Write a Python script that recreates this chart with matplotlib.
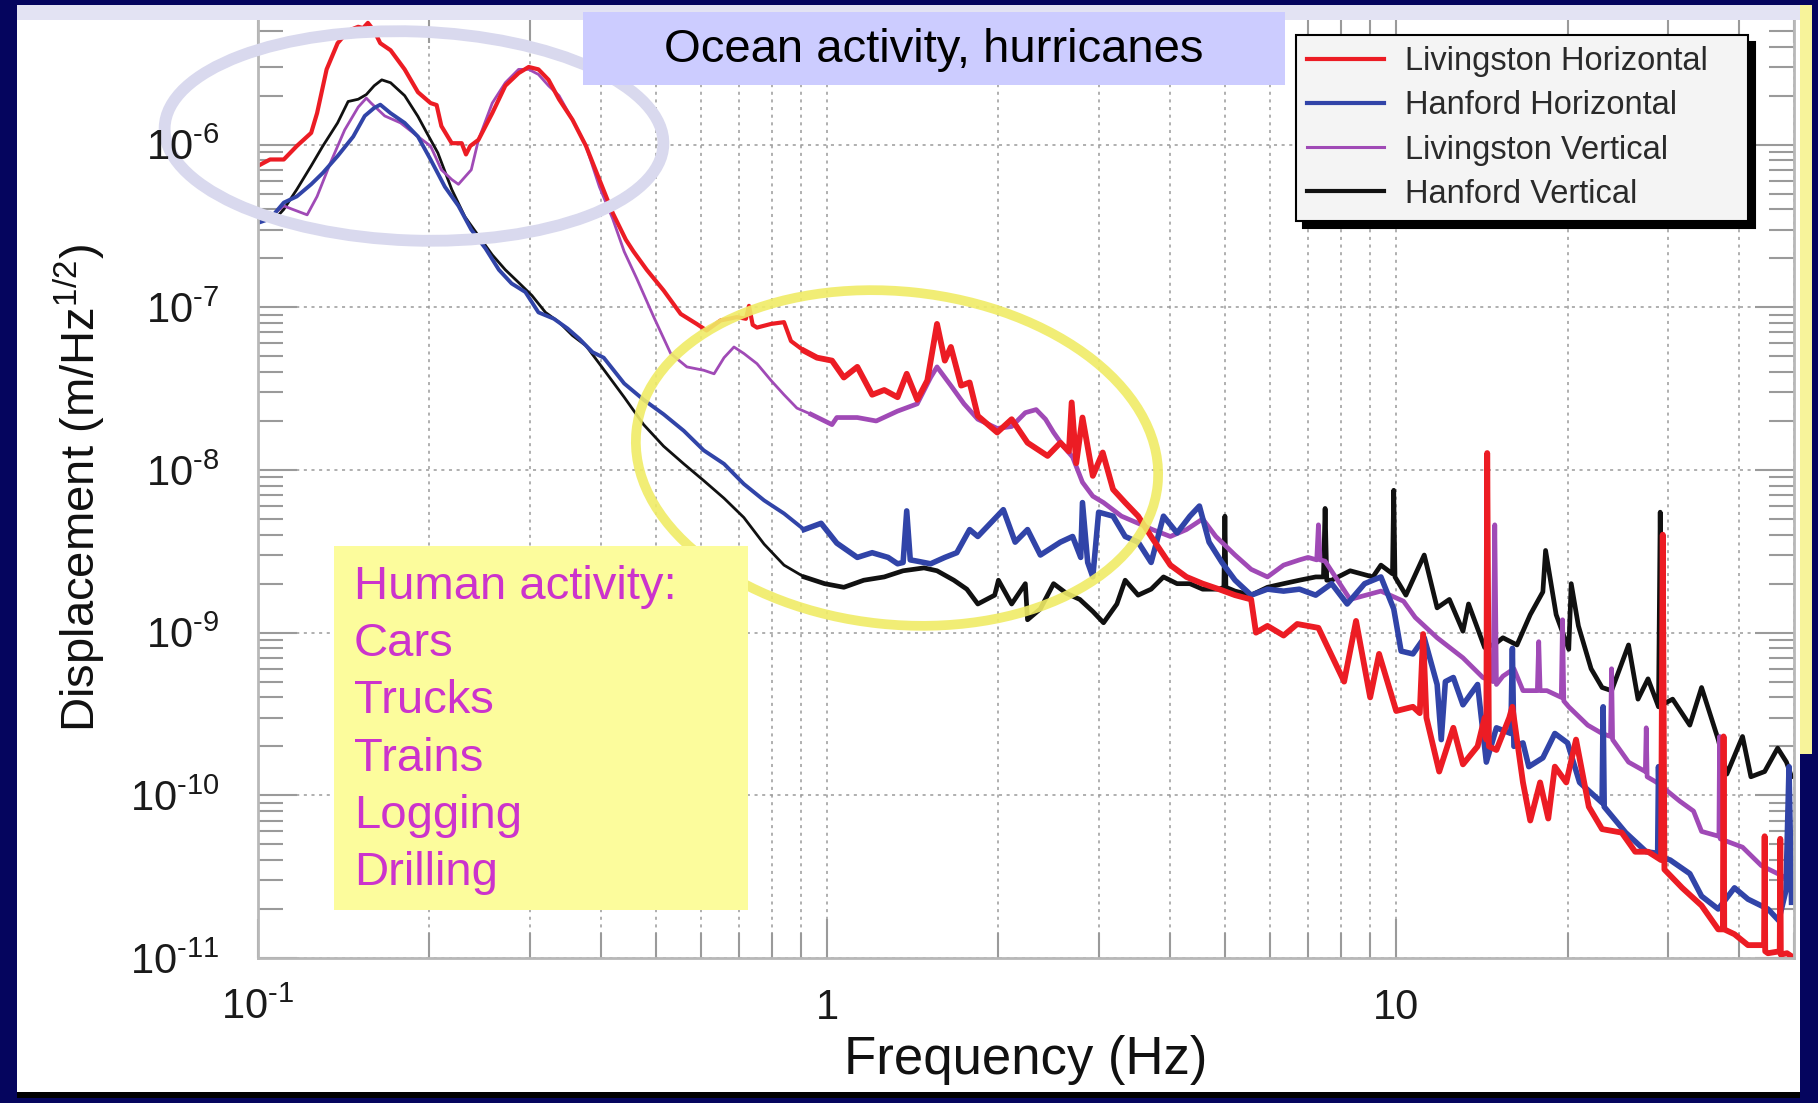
import matplotlib
matplotlib.use("Agg")
import matplotlib.pyplot as plt
from matplotlib.patches import Rectangle, Ellipse
from matplotlib.ticker import FixedLocator, LogLocator, NullFormatter, FuncFormatter
import numpy as np

plt.rcParams['font.family'] = ['Liberation Sans', 'DejaVu Sans']
plt.rcParams['mathtext.fontset'] = 'custom'
plt.rcParams['mathtext.rm'] = 'Liberation Sans'
plt.rcParams['mathtext.it'] = 'Liberation Sans:italic'
plt.rcParams['mathtext.bf'] = 'Liberation Sans:bold'

# ---- data: (frequency Hz, displacement m/rtHz) ----
lh_points = [  # Livingston Horizontal
    (0.100, 7.4e-7), (0.105, 8.1e-7), (0.111, 8.1e-7), (0.117, 9.8e-7), (0.124, 1.18e-6),
    (0.127, 1.56e-6), (0.132, 2.9e-6), (0.138, 4.2e-6), (0.144, 5.0e-6), (0.150, 5.3e-6),
    (0.153, 5.2e-6), (0.156, 5.6e-6), (0.160, 5.0e-6), (0.164, 4.2e-6), (0.171, 3.8e-6),
    (0.181, 2.9e-6), (0.191, 2.1e-6), (0.201, 1.8e-6), (0.206, 1.75e-6), (0.210, 1.3e-6),
    (0.219, 1.02e-6), (0.228, 1.02e-6), (0.232, 8.7e-7), (0.236, 9.8e-7), (0.244, 1.07e-6),
    (0.258, 1.56e-6), (0.272, 2.3e-6), (0.287, 2.75e-6), (0.299, 3.0e-6), (0.311, 2.9e-6),
    (0.324, 2.5e-6), (0.338, 1.9e-6), (0.357, 1.42e-6), (0.377, 9.8e-7), (0.398, 6.1e-7),
    (0.420, 3.8e-7), (0.443, 2.6e-7), (0.457, 2.2e-7), (0.482, 1.7e-7), (0.516, 1.27e-7),
    (0.553, 9.1e-8), (0.590, 7.9e-8), (0.614, 7.2e-8), (0.650, 8.3e-8), (0.694, 8.7e-8),
    (0.720, 8.5e-8), (0.729, 1.02e-7), (0.740, 7.8e-8), (0.753, 7.5e-8), (0.797, 7.9e-8),
    (0.840, 8.1e-8), (0.864, 6.2e-8), (0.911, 5.4e-8), (0.960, 4.9e-8), (1.02, 4.7e-8),
    (1.07, 3.7e-8), (1.13, 4.3e-8), (1.20, 2.9e-8), (1.26, 3.1e-8), (1.33, 2.8e-8),
    (1.38, 3.9e-8), (1.44, 2.7e-8), (1.50, 3.55e-8), (1.56, 7.9e-8), (1.61, 4.7e-8),
    (1.65, 5.7e-8), (1.72, 3.3e-8), (1.78, 3.45e-8), (1.84, 2.15e-8), (1.99, 1.7e-8),
    (2.11, 2.05e-8), (2.25, 1.47e-8), (2.44, 1.22e-8), (2.57, 1.47e-8), (2.66, 1.3e-8),
    (2.69, 2.6e-8), (2.74, 1.1e-8), (2.81, 2.1e-8), (2.93, 9.2e-9), (3.05, 1.28e-8),
    (3.18, 7.6e-9), (3.34, 6.3e-9), (3.52, 5.2e-9), (3.71, 3.9e-9), (4.01, 2.6e-9),
    (4.28, 2.2e-9), (4.57, 2.0e-9), (4.88, 1.85e-9), (5.21, 1.7e-9), (5.56, 1.6e-9),
    (5.67, 1.0e-9), (5.94, 1.1e-9), (6.34, 9.6e-10), (6.70, 1.13e-9), (7.30, 1.07e-9),
    (8.10, 5.0e-10), (8.50, 1.18e-9), (9.00, 4.0e-10), (9.33, 7.4e-10), (10.0, 3.3e-10),
    (10.7, 3.5e-10), (11.0, 3.2e-10), (11.15, 9.8e-10), (11.3, 3.0e-10), (11.9, 1.4e-10),
    (12.6, 2.6e-10), (13.1, 1.55e-10), (13.9, 2.0e-10), (14.3, 3.0e-10), (14.4, 2.2e-10),
    (14.45, 1.27e-8), (14.55, 2.0e-10), (15.0, 1.9e-10), (15.8, 3.0e-10), (16.0, 3.5e-10),
    (16.7, 1.2e-10), (17.2, 7.0e-11), (17.9, 1.2e-10), (18.5, 7.2e-11), (19.0, 1.5e-10),
    (19.9, 1.2e-10), (20.7, 2.2e-10), (21.8, 8.5e-11), (23.0, 6.2e-11), (24.9, 5.9e-11),
    (26.3, 4.5e-11), (27.7, 4.5e-11), (29.2, 4.0e-11), (29.4, 4.0e-9), (29.6, 3.5e-11),
    (31.8, 2.7e-11), (34.4, 2.1e-11), (36.8, 1.5e-11), (37.5, 1.5e-11), (37.6, 2.3e-10),
    (37.7, 1.5e-11), (39.3, 1.4e-11), (41.5, 1.2e-11), (44.3, 1.2e-11), (44.4, 5.6e-11),
    (44.5, 1.1e-11), (45.0, 1.07e-11), (47.2, 1.1e-11), (47.3, 5.4e-11), (47.4, 1.05e-11),
    (48.6, 1.07e-11), (50.0, 1.0e-11),
]

hh_points = [  # Hanford Horizontal
    (0.100, 3.3e-7), (0.105, 3.5e-7), (0.111, 4.4e-7), (0.117, 4.8e-7), (0.124, 5.7e-7),
    (0.130, 6.7e-7), (0.138, 8.5e-7), (0.147, 1.12e-6), (0.154, 1.5e-6), (0.160, 1.68e-6),
    (0.164, 1.76e-6), (0.171, 1.56e-6), (0.181, 1.36e-6), (0.191, 1.12e-6), (0.201, 8.1e-7),
    (0.213, 5.5e-7), (0.225, 4.2e-7), (0.237, 3.0e-7), (0.251, 2.3e-7), (0.265, 1.7e-7),
    (0.279, 1.4e-7), (0.295, 1.24e-7), (0.311, 9.3e-8), (0.331, 8.5e-8), (0.350, 7.4e-8),
    (0.367, 6.4e-8), (0.387, 5.3e-8), (0.405, 4.9e-8), (0.440, 3.4e-8), (0.476, 2.7e-8),
    (0.516, 2.2e-8), (0.560, 1.74e-8), (0.607, 1.32e-8), (0.659, 1.09e-8), (0.714, 8.2e-9),
    (0.775, 6.5e-9), (0.840, 5.4e-9), (0.911, 4.3e-9), (0.976, 4.7e-9), (1.04, 3.55e-9),
    (1.13, 2.9e-9), (1.20, 3.1e-9), (1.28, 2.9e-9), (1.33, 2.65e-9), (1.36, 2.7e-9),
    (1.38, 5.6e-9), (1.40, 2.8e-9), (1.44, 2.75e-9), (1.52, 2.65e-9), (1.61, 2.9e-9),
    (1.69, 3.1e-9), (1.78, 4.3e-9), (1.84, 3.9e-9), (1.99, 5.2e-9), (2.04, 5.7e-9),
    (2.14, 3.6e-9), (2.25, 4.3e-9), (2.37, 3.0e-9), (2.57, 3.6e-9), (2.70, 3.9e-9),
    (2.79, 2.9e-9), (2.81, 6.3e-9), (2.87, 2.7e-9), (2.93, 2.2e-9), (3.00, 5.5e-9),
    (3.18, 5.2e-9), (3.34, 3.9e-9), (3.52, 3.6e-9), (3.71, 2.7e-9), (3.90, 5.2e-9),
    (4.12, 4.1e-9), (4.34, 5.2e-9), (4.51, 6.0e-9), (4.69, 3.6e-9), (4.94, 2.7e-9),
    (5.21, 2.1e-9), (5.56, 1.7e-9), (5.94, 1.85e-9), (6.34, 1.8e-9), (6.76, 1.85e-9),
    (7.22, 1.7e-9), (7.70, 2.0e-9), (8.20, 1.5e-9), (8.80, 2.0e-9), (9.40, 2.2e-9),
    (9.90, 1.4e-9), (10.2, 7.7e-10), (10.7, 7.4e-10), (11.2, 9.3e-10), (11.8, 4.8e-10),
    (12.0, 2.2e-10), (12.2, 5.0e-10), (12.6, 5.3e-10), (13.1, 3.6e-10), (13.9, 4.8e-10),
    (14.4, 1.6e-10), (15.0, 2.6e-10), (15.9, 2.4e-10), (16.0, 8.0e-10), (16.1, 2.0e-10),
    (16.7, 2.1e-10), (17.1, 1.5e-10), (18.1, 1.7e-10), (19.0, 2.4e-10), (20.0, 2.1e-10),
    (21.0, 1.2e-10), (23.0, 9.0e-11), (23.1, 3.5e-10), (23.2, 8.5e-11), (25.3, 5.9e-11),
    (27.5, 4.5e-11), (28.8, 4.4e-11), (28.9, 1.5e-10), (29.1, 4.2e-11), (30.3, 4.0e-11),
    (32.8, 3.3e-11), (34.4, 2.4e-11), (36.8, 2.0e-11), (39.3, 2.7e-11), (41.5, 2.3e-11),
    (45.0, 2.0e-11), (47.0, 1.7e-11), (48.4, 2.6e-11), (49.0, 1.5e-10), (49.5, 2.2e-11),
]

lv_points = [  # Livingston Vertical
    (0.100, 3.5e-7), (0.105, 3.6e-7), (0.111, 4.2e-7), (0.115, 4.0e-7), (0.122, 3.7e-7),
    (0.127, 4.8e-7), (0.134, 7.7e-7), (0.142, 1.23e-6), (0.150, 1.7e-6), (0.155, 1.93e-6),
    (0.158, 1.8e-6), (0.167, 1.5e-6), (0.178, 1.36e-6), (0.191, 1.12e-6), (0.201, 9.8e-7),
    (0.210, 7.0e-7), (0.219, 6.1e-7), (0.225, 5.7e-7), (0.237, 7.0e-7), (0.244, 1.07e-6),
    (0.258, 1.8e-6), (0.272, 2.4e-6), (0.287, 2.9e-6), (0.299, 2.9e-6), (0.311, 2.7e-6),
    (0.324, 2.3e-6), (0.338, 2.0e-6), (0.357, 1.42e-6), (0.377, 9.8e-7), (0.398, 5.5e-7),
    (0.420, 3.5e-7), (0.440, 2.2e-7), (0.463, 1.5e-7), (0.496, 8.7e-8), (0.531, 5.2e-8),
    (0.567, 4.3e-8), (0.607, 4.1e-8), (0.633, 3.9e-8), (0.659, 4.9e-8), (0.686, 5.7e-8),
    (0.714, 5.2e-8), (0.753, 4.5e-8), (0.797, 3.55e-8), (0.840, 2.9e-8), (0.885, 2.4e-8),
    (0.937, 2.2e-8), (1.02, 1.9e-8), (1.04, 2.1e-8), (1.13, 2.1e-8), (1.22, 2.0e-8),
    (1.33, 2.3e-8), (1.44, 2.55e-8), (1.52, 3.7e-8), (1.56, 4.3e-8), (1.65, 3.3e-8),
    (1.74, 2.55e-8), (1.84, 2.05e-8), (1.99, 1.8e-8), (2.11, 1.85e-8), (2.23, 2.25e-8),
    (2.33, 2.35e-8), (2.42, 2.05e-8), (2.50, 1.7e-8), (2.60, 1.4e-8), (2.70, 1.2e-8),
    (2.81, 8.4e-9), (2.93, 6.9e-9), (3.06, 6.3e-9), (3.29, 5.2e-9), (3.52, 4.7e-9),
    (3.73, 4.3e-9), (4.01, 3.9e-9), (4.28, 4.3e-9), (4.57, 5.0e-9), (4.82, 3.9e-9),
    (5.21, 3.0e-9), (5.56, 2.45e-9), (5.94, 2.2e-9), (6.34, 2.6e-9), (6.76, 2.8e-9),
    (7.00, 2.9e-9), (7.25, 2.8e-9), (7.30, 4.6e-9), (7.35, 2.8e-9), (7.50, 2.75e-9),
    (8.30, 1.6e-9), (9.40, 1.8e-9), (10.3, 1.56e-9), (10.8, 1.24e-9), (11.8, 9.3e-10),
    (13.1, 7.0e-10), (14.2, 5.3e-10), (14.8, 5.0e-10), (14.9, 4.6e-9), (15.0, 4.8e-10),
    (15.4, 5.4e-10), (16.1, 6.0e-10), (16.7, 4.4e-10), (17.7, 4.4e-10), (17.8, 8.8e-10),
    (17.9, 4.4e-10), (18.4, 4.4e-10), (19.5, 4.0e-10), (19.6, 1.2e-9), (19.7, 3.8e-10),
    (20.1, 3.5e-10), (21.7, 2.7e-10), (23.0, 2.4e-10), (23.8, 2.3e-10), (23.9, 6.0e-10),
    (24.0, 2.2e-10), (25.6, 1.6e-10), (27.4, 1.4e-10), (27.5, 2.6e-10), (27.6, 1.3e-10),
    (28.7, 1.2e-10), (31.5, 9.2e-11), (33.3, 8.0e-11), (34.4, 6.0e-11), (36.9, 5.6e-11),
    (37.0, 2.3e-10), (37.1, 5.4e-11), (40.6, 4.8e-11), (43.8, 3.7e-11), (46.8, 3.3e-11),
    (48.5, 3.1e-11),
]

hv_points = [  # Hanford Vertical
    (0.100, 3.3e-7), (0.105, 3.8e-7), (0.108, 3.6e-7), (0.111, 4.0e-7), (0.117, 5.3e-7),
    (0.124, 7.4e-7), (0.130, 9.8e-7), (0.138, 1.36e-6), (0.144, 1.84e-6), (0.150, 1.9e-6),
    (0.155, 2.03e-6), (0.160, 2.3e-6), (0.165, 2.5e-6), (0.171, 2.4e-6), (0.181, 2.0e-6),
    (0.191, 1.49e-6), (0.198, 1.18e-6), (0.207, 8.9e-7), (0.219, 5.3e-7), (0.231, 3.6e-7),
    (0.244, 2.75e-7), (0.258, 2.1e-7), (0.272, 1.7e-7), (0.287, 1.42e-7), (0.303, 1.18e-7),
    (0.320, 9.3e-8), (0.338, 8.1e-8), (0.357, 6.7e-8), (0.377, 5.8e-8), (0.398, 4.5e-8),
    (0.440, 2.8e-8), (0.476, 1.9e-8), (0.516, 1.4e-8), (0.560, 1.09e-8), (0.607, 8.6e-9),
    (0.659, 6.7e-9), (0.714, 5.1e-9), (0.775, 3.5e-9), (0.840, 2.6e-9), (0.911, 2.2e-9),
    (0.990, 2.0e-9), (1.07, 1.9e-9), (1.16, 2.1e-9), (1.26, 2.2e-9), (1.36, 2.4e-9),
    (1.48, 2.5e-9), (1.56, 2.4e-9), (1.67, 2.1e-9), (1.76, 1.85e-9), (1.84, 1.5e-9),
    (1.97, 1.7e-9), (2.00, 2.1e-9), (2.11, 1.5e-9), (2.23, 2.0e-9), (2.25, 1.2e-9),
    (2.37, 1.4e-9), (2.50, 2.0e-9), (2.63, 1.75e-9), (2.78, 1.6e-9), (2.93, 1.35e-9),
    (3.06, 1.15e-9), (3.23, 1.5e-9), (3.34, 2.1e-9), (3.52, 1.7e-9), (3.71, 1.85e-9),
    (3.90, 2.2e-9), (4.12, 2.0e-9), (4.34, 2.0e-9), (4.57, 1.85e-9), (4.88, 1.85e-9),
    (4.98, 1.9e-9), (5.00, 5.2e-9), (5.02, 1.9e-9), (5.21, 1.8e-9), (5.56, 1.7e-9),
    (5.94, 1.9e-9), (6.34, 2.0e-9), (6.76, 2.1e-9), (7.22, 2.2e-9), (7.45, 2.2e-9),
    (7.50, 5.8e-9), (7.55, 2.1e-9), (7.70, 2.1e-9), (8.30, 2.4e-9), (9.10, 2.2e-9),
    (9.40, 2.6e-9), (9.85, 2.3e-9), (9.90, 7.5e-9), (9.95, 2.2e-9), (10.4, 1.7e-9),
    (11.2, 3.0e-9), (11.8, 1.42e-9), (12.4, 1.6e-9), (13.1, 1.02e-9), (13.4, 1.5e-9),
    (14.3, 8.1e-10), (14.9, 8.5e-10), (15.4, 9.3e-10), (16.3, 8.4e-10), (17.2, 1.29e-9),
    (18.1, 1.78e-9), (18.3, 3.2e-9), (19.1, 1.29e-9), (20.1, 7.9e-10), (20.3, 2.0e-9),
    (20.9, 1.1e-9), (22.0, 6.0e-10), (23.0, 4.6e-10), (23.9, 4.4e-10), (25.6, 8.4e-10),
    (26.6, 3.9e-10), (27.7, 5.2e-10), (28.9, 3.5e-10), (29.1, 5.5e-9), (29.3, 3.6e-10),
    (30.6, 3.9e-10), (32.8, 2.7e-10), (34.4, 4.6e-10), (36.8, 2.2e-10), (38.1, 1.35e-10),
    (40.6, 2.3e-10), (42.0, 1.3e-10), (44.4, 1.4e-10), (46.8, 1.95e-10), (48.5, 1.6e-10),
    (49.5, 1.3e-10),
]

series_labels = ['Livingston Horizontal', 'Hanford Horizontal',
                 'Livingston Vertical', 'Hanford Vertical']
series_colors = ['#ec1c24', '#3144a8', '#a04ab6', '#111111']

x_ticks = [0.1, 1, 10]
x_tick_labels = ['$\\mathregular{10^{\u20101}}$', '1', '10']
human_lines = ['Human activity:', 'Cars', 'Trucks', 'Trains', 'Logging', 'Drilling']
noisy_from = 0.9  # Hz, above this the measured traces are visibly noisy/thick

# ---- figure / slide background ----
W, H = 1818, 1103
fig = plt.figure(figsize=(W / 100, H / 100), dpi=100, facecolor='#05055e')


def box(x0, y0, x1, y1):
    # pixel box measured from top-left -> figure fraction rectangle
    return (x0 / W, 1 - y1 / H), (x1 - x0) / W, (y1 - y0) / H


for (xy, w, h), col, z in [(box(17, 5, 1800, 1096), 'white', -10),
                           (box(1800, 5, 1812, 754), '#f7f39a', -9),
                           (box(17, 5, 1800, 20), '#e3e3f3', 12),
                           (box(17, 1092, 1800, 1098), 'black', 12)]:
    fig.add_artist(Rectangle(xy, w, h, transform=fig.transFigure,
                             facecolor=col, edgecolor='none', zorder=z))

ax_rect = [258 / W, 1 - 958 / H, (1794 - 258) / W, (958 - 18) / H]
ax = fig.add_axes(ax_rect)
ax.set_facecolor('white')

handles = []
for pts, col, lw, lw_noisy in [(hv_points, series_colors[3], 2.0, 3.4),
                               (lv_points, series_colors[2], 2.0, 3.4),
                               (hh_points, series_colors[1], 2.8, 4.0),
                               (lh_points, series_colors[0], 3.0, 4.2)]:
    f, d = map(np.array, zip(*pts))
    ln, = ax.plot(f, d, color=col, lw=lw)
    hi = f >= noisy_from
    ax.plot(f[hi], d[hi], color=col, lw=lw_noisy)
    handles.append(ln)
handles = handles[::-1]


def x_fmt(v, p):
    return x_tick_labels[x_ticks.index(v)] if v in x_ticks else ''


def y_fmt(v, p):
    return '$\\mathregular{10^{\u2010%d}}$' % abs(round(np.log10(v)))


# tick labels live on a bare overlay axes so they sit above the slide ellipse
ax_lab = fig.add_axes(ax_rect, zorder=16)
ax_lab.patch.set_visible(False)
for a in (ax, ax_lab):
    a.set_xscale('log')
    a.set_yscale('log')
    a.set_xlim(0.1, 50)
    a.set_ylim(1e-11, 6e-6)
    a.xaxis.set_major_locator(FixedLocator(x_ticks))
    a.xaxis.set_minor_locator(LogLocator(base=10, subs=np.arange(2, 10), numticks=20))
    a.xaxis.set_major_formatter(FuncFormatter(x_fmt))
    a.xaxis.set_minor_formatter(NullFormatter())
    a.yaxis.set_major_locator(LogLocator(base=10, numticks=20))
    a.yaxis.set_minor_locator(LogLocator(base=10, subs=np.arange(2, 10), numticks=20))
    a.yaxis.set_major_formatter(FuncFormatter(y_fmt))
    a.yaxis.set_minor_formatter(NullFormatter())

ax.tick_params(which='both', direction='in', top=True, right=True,
               color='#9a9a9a', width=1.5, labelleft=False, labelbottom=False)
ax.tick_params(which='major', length=28)
ax.tick_params(which='minor', length=18)

for s in ax_lab.spines.values():
    s.set_visible(False)
ax_lab.tick_params(which='both', direction='in', length=0, labelsize=30, labelcolor='#1a1a1a')
ax_lab.tick_params(axis='y', pad=28)
ax_lab.tick_params(axis='x', pad=44)
for lab in ax_lab.get_xticklabels():
    lab.set_va('baseline')

ax.set_axisbelow(True)
ax.grid(True, which='major', ls=(0, (2, 3)), color='#9a9a9a', lw=1.1)
ax.grid(True, which='minor', axis='x', ls=(0, (2, 3)), color='#9a9a9a', lw=1.1)
for s in ax.spines.values():
    s.set_color('#b8b8b8')
    s.set_linewidth(2)

ax.set_xlabel('Frequency (Hz)', fontsize=38, color='#111111', va='top')
ax.xaxis.set_label_coords(0.5, -0.082)
ax.set_ylabel(r'Displacement (m/Hz$^{\mathregular{1/2}}$)', fontsize=34, color='#111111')
ax.yaxis.set_label_coords(-0.098, 0.5)

leg = ax.legend(handles, series_labels, loc='upper left', mode='expand',
                bbox_to_anchor=(1296 / W, 1 - 220 / H, 452 / W, 185 / H),
                bbox_transform=fig.transFigure,
                fontsize=23.5, frameon=True, fancybox=False, edgecolor='black',
                facecolor='#f4f4f4', framealpha=1,
                shadow={'ox': 5, 'oy': -5, 'facecolor': 'black', 'edgecolor': 'black', 'alpha': 1},
                handlelength=2.35, handletextpad=0.65, labelspacing=0.4,
                borderpad=0.35, borderaxespad=0)
leg.get_frame().set_linewidth(1.5)
for t in leg.get_texts():
    t.set_color('#2a2a2a')
for l, lw in zip(leg.get_lines(), [3, 3, 2.2, 3]):
    l.set_linewidth(lw)

# ---- slide annotations ----
dpi_tr = fig.dpi_scale_trans
fig.add_artist(Ellipse((4.14, (H - 136) / 100), 4.99, 2.09, angle=-2, transform=dpi_tr,
                       fill=False, edgecolor='#d9d9ee', lw=8.5, zorder=15))
fig.add_artist(Ellipse((8.97, (H - 458) / 100), 5.24, 3.33, angle=-6, transform=dpi_tr,
                       fill=False, edgecolor='#f0ec66', lw=7, alpha=0.9, zorder=15))

xy, w, h = box(583, 12, 1285, 85)
fig.add_artist(Rectangle(xy, w, h, transform=fig.transFigure,
                         facecolor='#ccccff', edgecolor='none', zorder=19))
fig.text(934 / W, 1 - 50 / H, 'Ocean activity, hurricanes', ha='center', va='center',
         fontsize=34, color='black', zorder=20)

xy, w, h = box(334, 546, 748, 910)
fig.add_artist(Rectangle(xy, w, h, transform=fig.transFigure,
                         facecolor='#fcfc9c', edgecolor='none', zorder=19))
fig.text(354 / W, 1 - 730 / H, '\n'.join(human_lines), ha='left', va='center',
         fontsize=34, color='#cc33cc', linespacing=1.385, zorder=20)

fig.savefig('out.png', dpi=100, facecolor=fig.get_facecolor())
